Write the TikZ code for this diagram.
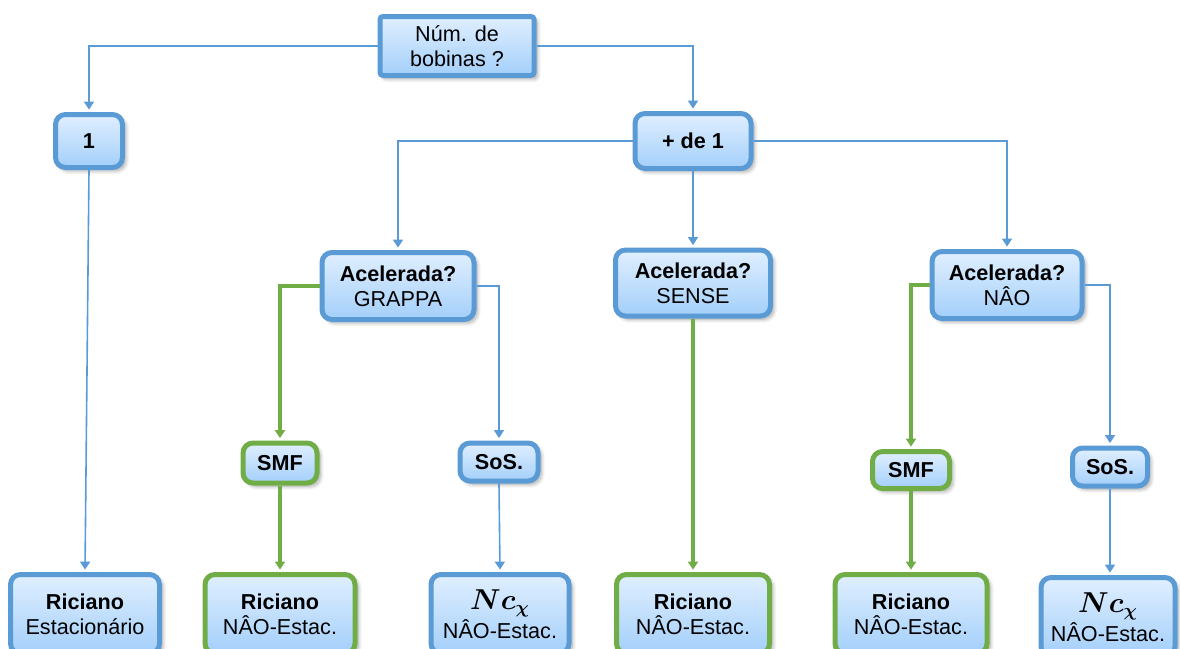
\documentclass[tikz,border=0pt]{standalone}
\usepackage{bm}
\usepackage{fontspec}
\setmainfont{Liberation Sans}
\usetikzlibrary{arrows.meta,shadows.blur}
\definecolor{edgeblue}{RGB}{91,155,213}
\definecolor{edgegreen}{RGB}{112,173,71}
\definecolor{boxtop}{RGB}{224,239,255}
\definecolor{boxbot}{RGB}{163,207,250}
\newcommand{\ncchi}{{\fontsize{13.5}{12.5}\selectfont$\bm{Nc_{\chi}}$}}
\tikzset{
  box/.style={draw=edgeblue, line width=2.5pt, rounded corners=5pt,
    top color=boxtop, bottom color=boxbot, align=center, inner sep=0pt,
    font=\fontsize{10.8}{12.6}\selectfont,
    blur shadow={shadow xshift=1.6pt, shadow yshift=-1.6pt, shadow blur steps=8, shadow blur radius=2pt, shadow opacity=35}},
  gbox/.style={box, draw=edgegreen},
  bl/.style={draw=edgeblue, line width=0.8pt, shorten >=1.2pt,
    -{Triangle[length=4pt,width=5pt]}},
  gl/.style={draw=edgegreen, line width=1.6pt, shorten >=1.2pt,
    -{Triangle[length=4pt,width=5pt]}}
}
\begin{document}
\begin{tikzpicture}[x=0.5pt,y=-0.5pt]
\useasboundingbox (0,0) rectangle (1180,649);

% question nodes
\node[box, rounded corners=1.5pt, minimum width=77pt, minimum height=29.5pt] (top) at (457,46) {Núm. de\\bobinas ?};
\node[box, minimum width=33.5pt, minimum height=26.5pt] (n1) at (89,141) {\textbf{1}};
\node[box, minimum width=58pt, minimum height=27.5pt] (more) at (693,141) {\textbf{+ de 1}};
\node[box, minimum width=76pt, minimum height=33.5pt] (grappa) at (398,286) {\textbf{Acelerada?}\\GRAPPA};
\node[box, minimum width=77.5pt, minimum height=33pt] (sense) at (693,283) {\textbf{Acelerada?}\\SENSE};
\node[box, minimum width=75pt, minimum height=33.5pt] (nao) at (1007,285) {\textbf{Acelerada?}\\NÂO};

% combination method nodes
\node[gbox, minimum width=37pt, minimum height=20pt] (smf1) at (280,463) {\textbf{SMF}};
\node[box, minimum width=39pt, minimum height=19pt] (sos1) at (499,462) {\textbf{SoS.}};
\node[gbox, minimum width=38.5pt, minimum height=18.5pt] (smf2) at (911,470) {\textbf{SMF}};
\node[box, minimum width=37.5pt, minimum height=19pt] (sos2) at (1110,467) {\textbf{SoS.}};

% resulting noise models
\node[box, minimum width=74.5pt, minimum height=39.5pt] (r1) at (85,614) {\textbf{Riciano}\\Estacionário};
\node[gbox, minimum width=75pt, minimum height=39.5pt] (r2) at (280,614) {\textbf{Riciano}\\NÂO-Estac.};
\node[box, minimum width=69pt, minimum height=39.5pt] (nc1) at (500,614) {\ncchi\\NÂO-Estac.};
\node[gbox, minimum width=76.5pt, minimum height=39.5pt] (r3) at (693,614) {\textbf{Riciano}\\NÂO-Estac.};
\node[gbox, minimum width=76pt, minimum height=39.5pt] (r4) at (911,614) {\textbf{Riciano}\\NÂO-Estac.};
\node[box, minimum width=67pt, minimum height=39.5pt] (nc2) at (1108,617) {\ncchi\\NÂO-Estac.};

% connectors
\draw[bl] (top.west) -| (n1.north);
\draw[bl] (top.east) -| (more.north);
\draw[bl] (n1.south) -- (r1.north);
\draw[bl] (more.west) -| (grappa.north);
\draw[bl] (more.south) -- (sense.north);
\draw[bl] (more.east) -| (nao.north);
\draw[gl] (grappa.west) -| (smf1.north);
\draw[bl] (grappa.east) -| (sos1.north);
\draw[gl] (smf1.south) -- (r2.north);
\draw[bl] (sos1.south) -- (nc1.north);
\draw[gl] (sense.south) -- (r3.north);
\draw[gl] (nao.west) -| (smf2.north);
\draw[bl] (nao.east) -| (sos2.north);
\draw[gl] (smf2.south) -- (r4.north);
\draw[bl] (sos2.south) -- (sos2.south |- nc2.north);
\end{tikzpicture}
\end{document}
